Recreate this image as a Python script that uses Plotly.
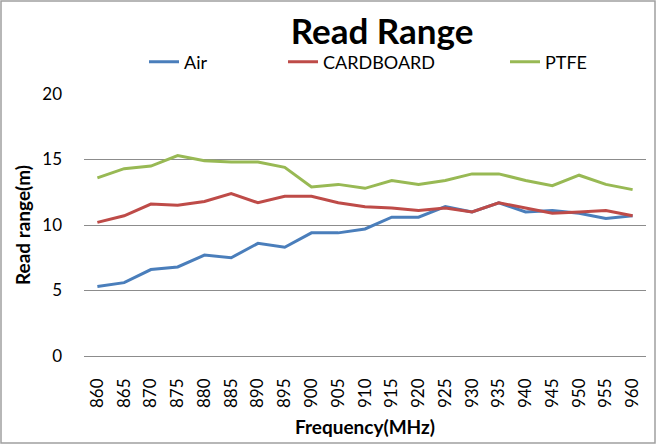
import plotly.graph_objects as go

freq = [860, 865, 870, 875, 880, 885, 890, 895, 900, 905, 910,
        915, 920, 925, 930, 935, 940, 945, 950, 955, 960]
air = [5.3, 5.6, 6.6, 6.8, 7.7, 7.5, 8.6, 8.3, 9.4, 9.4, 9.7,
       10.6, 10.6, 11.4, 11.0, 11.7, 11.0, 11.1, 10.9, 10.5, 10.7]
cardboard = [10.2, 10.7, 11.6, 11.5, 11.8, 12.4, 11.7, 12.2, 12.2, 11.7, 11.4,
             11.3, 11.1, 11.3, 11.0, 11.7, 11.3, 10.9, 11.0, 11.1, 10.7]
ptfe = [13.6, 14.3, 14.5, 15.3, 14.9, 14.8, 14.8, 14.4, 12.9, 13.1, 12.8,
        13.4, 13.1, 13.4, 13.9, 13.9, 13.4, 13.0, 13.8, 13.1, 12.7]
y_ticks = [0, 5, 10, 15, 20]

FONT = "Lato, 'Liberation Sans', sans-serif"
W, H = 657, 445
L, R, T, B = 84, 11, 94, 89
pw, ph = W - L - R, H - T - B

x_labels = [str(f) for f in freq]


def px2paper_x(px):
    return (px - L) / pw


def px2paper_y(py):
    return (H - B - py) / ph


fig = go.Figure()
series = [("Air", air, "#4A7EBB", "legend"),
          ("CARDBOARD", cardboard, "#BE4B48", "legend2"),
          ("PTFE", ptfe, "#98B954", "legend3")]
for name, vals, col, lg in series:
    fig.add_trace(go.Scatter(x=x_labels, y=vals, mode="lines", name=name,
                             line=dict(color=col, width=3), legend=lg,
                             showlegend=True))

leg_common = dict(orientation="h", yanchor="middle", xanchor="left",
                  font=dict(family=FONT, size=18, color="#000"),
                  bgcolor="rgba(0,0,0,0)", borderwidth=0, visible=True)

fig.update_layout(
    width=W, height=H,
    showlegend=True,
    margin=dict(l=L, r=R, t=T, b=B),
    paper_bgcolor="white", plot_bgcolor="white",
    title=dict(text="<b>Read Range</b>", x=px2paper_x(382), xref="paper",
               xanchor="center", y=1 - 32 / H, yanchor="middle",
               font=dict(family=FONT, size=35, color="#000")),
    legend=dict(x=px2paper_x(144), y=px2paper_y(62), **leg_common),
    legend2=dict(x=px2paper_x(283), y=px2paper_y(62), **leg_common),
    legend3=dict(x=px2paper_x(505), y=px2paper_y(62), **leg_common),
    xaxis=dict(type="category", range=[-0.5, len(freq) - 0.5],
               tickangle=-90, showgrid=False, showline=False,
               ticks="", ticklabelstandoff=18, automargin=False,
               tickfont=dict(family=FONT, size=17, color="#000"),
               title=dict(text="<b>Frequency(MHz)</b>", standoff=13,
                          font=dict(family=FONT, size=19, color="#000"))),
    yaxis=dict(range=[0, 20], tickvals=y_ticks, showgrid=True,
               gridcolor="#8C8C8C", gridwidth=1, zeroline=True,
               zerolinecolor="#8C8C8C", zerolinewidth=1, showline=False,
               ticks="", ticklabelstandoff=21, automargin=False,
               tickfont=dict(family=FONT, size=17, color="#000"),
               title=dict(text="<b>Read range(m)</b>", standoff=6,
                          font=dict(family=FONT, size=19, color="#000"))),
)

fig.add_shape(type="rect", xref="paper", yref="paper",
              x0=px2paper_x(1), x1=px2paper_x(W - 2),
              y0=px2paper_y(H - 2), y1=px2paper_y(1),
              line=dict(color="#A0A0A0", width=1.5), layer="below")

fig.write_html("out.html", config={"displayModeBar": False},
               post_script="document.body.style.margin='0';"
                           "document.body.style.overflow='hidden';")
